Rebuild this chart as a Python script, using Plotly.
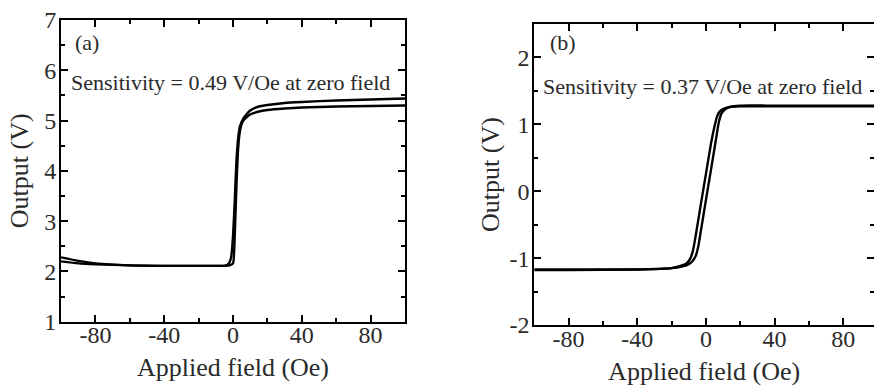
import plotly.graph_objects as go

# Panel (a) data: two sweep branches
a_up_field = [-100, -90, -80, -60, -40, -20, -8, -4, -2, 0, 1, 2, 3, 4, 5, 6, 8, 10, 15, 20, 30, 40, 60, 80, 100]
a_up_out = [2.20, 2.16, 2.14, 2.12, 2.11, 2.11, 2.11, 2.11, 2.12, 2.16, 2.7, 3.7, 4.45, 4.78, 4.93, 5.0, 5.07, 5.12, 5.18, 5.21, 5.24, 5.26, 5.28, 5.29, 5.30]
a_down_field = [100, 80, 60, 40, 30, 20, 15, 10, 8, 6, 4, 3, 2, 1, 0, -1, -2, -3, -4, -6, -10, -20, -40, -60, -80, -90, -100]
a_down_out = [5.44, 5.42, 5.40, 5.37, 5.35, 5.31, 5.28, 5.20, 5.13, 5.04, 4.88, 4.65, 4.2, 3.4, 2.7, 2.3, 2.18, 2.14, 2.12, 2.11, 2.11, 2.11, 2.11, 2.12, 2.16, 2.21, 2.28]

# Panel (b) data
b_up_field = [-100, -80, -40, -20, -13, -10, -8, -6, -4.5, -3, 0, 3, 6, 7.5, 9, 11, 14, 20, 40, 80, 100]
b_up_out = [-1.18, -1.18, -1.17, -1.15, -1.12, -1.09, -1.05, -0.97, -0.83, -0.60, -0.13, 0.33, 0.80, 1.03, 1.16, 1.22, 1.26, 1.28, 1.28, 1.28, 1.28]
b_down_field = [100, 80, 40, 20, 14, 10, 8, 6.5, 5, 3, 0, -3, -6, -7.5, -9, -11, -14, -20, -40, -80, -100]
b_down_out = [1.27, 1.27, 1.27, 1.27, 1.26, 1.23, 1.19, 1.12, 0.97, 0.72, 0.26, -0.20, -0.67, -0.88, -1.00, -1.07, -1.11, -1.15, -1.17, -1.17, -1.17]

x_tickvals = [-80, -40, 0, 40, 80]
x_ticktext = ["-80", "-40", "0", "40", "80"]
a_y_tickvals = [1, 2, 3, 4, 5, 6, 7]
a_y_ticktext = ["1", "2", "3", "4", "5", "6", "7"]
b_y_tickvals = [-2, -1, 0, 1, 2]
b_y_ticktext = ["-2", "-1", "0", "1", "2"]

FONT = "Liberation Serif"
INK = "#2a2a2a"

fig = go.Figure()
line = dict(color="black", width=2.4, shape="spline", smoothing=0.5)
fig.add_trace(go.Scatter(x=a_up_field, y=a_up_out, mode="lines", line=line, xaxis="x", yaxis="y", showlegend=False))
fig.add_trace(go.Scatter(x=a_down_field, y=a_down_out, mode="lines", line=line, xaxis="x", yaxis="y", showlegend=False))
fig.add_trace(go.Scatter(x=b_up_field, y=b_up_out, mode="lines", line=line, xaxis="x2", yaxis="y2", showlegend=False))
fig.add_trace(go.Scatter(x=b_down_field, y=b_down_out, mode="lines", line=line, xaxis="x2", yaxis="y2", showlegend=False))

def ax(**kw):
    d = dict(showline=True, linecolor="black", linewidth=2, mirror="ticks",
             ticks="inside", ticklen=7, tickwidth=2, tickcolor="black",
             showgrid=False, zeroline=False, automargin=False,
             tickfont=dict(family=FONT, size=24, color=INK),
             title_font=dict(family=FONT, size=26, color=INK))
    d.update(kw)
    return d

minor_x = dict(ticks="inside", ticklen=4, tickwidth=2, dtick=20, tick0=0, tickcolor="black")
minor_ya = dict(ticks="inside", ticklen=4, tickwidth=2, dtick=0.5, tick0=0, tickcolor="black")

fig.update_layout(
    width=874, height=386,
    margin=dict(l=0, r=0, t=0, b=0),
    paper_bgcolor="white", plot_bgcolor="white",
    xaxis=ax(domain=[0.0698, 0.4634], anchor="y", range=[-100, 100],
             tickvals=x_tickvals, ticktext=x_ticktext, minor=minor_x, ticklabelstandoff=-9,
             title=dict(text="Applied field (Oe)", standoff=10)),
    yaxis=ax(domain=[0.1666, 0.9482], anchor="x", range=[1, 7],
             tickvals=a_y_tickvals, ticktext=a_y_ticktext, minor=minor_ya, ticklabelstandoff=-2,
             title=dict(text="Output (V)", standoff=8)),
    xaxis2=ax(domain=[0.6113, 1.0], anchor="y2", range=[-100, 97.9],
              tickvals=x_tickvals, ticktext=x_ticktext, minor=minor_x, ticklabelstandoff=-9,
              title=dict(text="Applied field (Oe)", standoff=12)),
    yaxis2=ax(domain=[0.158, 0.9378], anchor="x2", range=[-2, 2.5],
              tickvals=b_y_tickvals, ticktext=b_y_ticktext, minor=minor_ya, ticklabelstandoff=-2,
              title=dict(text="Output (V)", standoff=2)),
    annotations=[
        dict(text="(a)", x=-93, y=6.56, xref="x", yref="y", xanchor="left", yanchor="middle", showarrow=False,
             font=dict(family=FONT, size=22, color=INK)),
        dict(text="Sensitivity = 0.49 V/Oe at zero field", x=-1.5, y=5.76, xref="x", yref="y",
             xanchor="center", yanchor="middle", showarrow=False, font=dict(family=FONT, size=22, color=INK)),
        dict(text="(b)", x=-92, y=2.22, xref="x2", yref="y2", xanchor="left", yanchor="middle", showarrow=False,
             font=dict(family=FONT, size=22, color=INK)),
        dict(text="Sensitivity = 0.37 V/Oe at zero field", x=-2, y=1.56, xref="x2", yref="y2",
             xanchor="center", yanchor="middle", showarrow=False, font=dict(family=FONT, size=22, color=INK)),
    ],
)

fig.write_html("out.html")
